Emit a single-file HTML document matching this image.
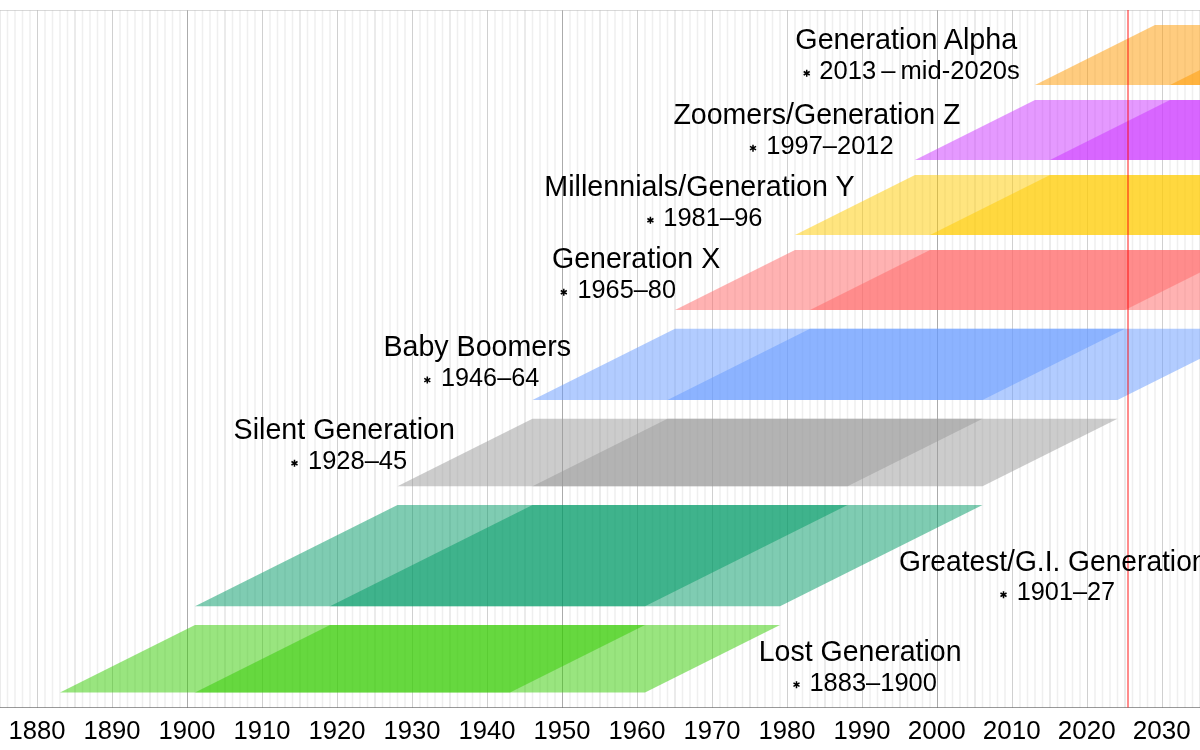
<!DOCTYPE html>
<html><head><meta charset="utf-8"><title>Generation timeline</title>
<style>html,body{margin:0;padding:0;background:#fff;}body{width:1200px;height:750px;overflow:hidden;}svg{display:block;will-change:transform;font-family:"Liberation Sans",sans-serif;}</style></head><body>
<svg width="1200" height="750" viewBox="0 0 1200 750">
<rect width="1200" height="750" fill="#fff"/>
<g fill="none" stroke="#000">
<path d="M7.5 10.5V707.5M15 10.5V707.5M22.5 10.5V707.5M30 10.5V707.5M45 10.5V707.5M52.5 10.5V707.5M60 10.5V707.5M67.5 10.5V707.5M82.5 10.5V707.5M90 10.5V707.5M97.5 10.5V707.5M105 10.5V707.5M120 10.5V707.5M127.5 10.5V707.5M135 10.5V707.5M142.5 10.5V707.5M157.5 10.5V707.5M165 10.5V707.5M172.5 10.5V707.5M180 10.5V707.5M195 10.5V707.5M202.5 10.5V707.5M210 10.5V707.5M217.5 10.5V707.5M232.5 10.5V707.5M240 10.5V707.5M247.5 10.5V707.5M255 10.5V707.5M270 10.5V707.5M277.5 10.5V707.5M285 10.5V707.5M292.5 10.5V707.5M307.5 10.5V707.5M315 10.5V707.5M322.5 10.5V707.5M330 10.5V707.5M345 10.5V707.5M352.5 10.5V707.5M360 10.5V707.5M367.5 10.5V707.5M382.5 10.5V707.5M390 10.5V707.5M397.5 10.5V707.5M405 10.5V707.5M420 10.5V707.5M427.5 10.5V707.5M435 10.5V707.5M442.5 10.5V707.5M457.5 10.5V707.5M465 10.5V707.5M472.5 10.5V707.5M480 10.5V707.5M495 10.5V707.5M502.5 10.5V707.5M510 10.5V707.5M517.5 10.5V707.5M532.5 10.5V707.5M540 10.5V707.5M547.5 10.5V707.5M555 10.5V707.5M570 10.5V707.5M577.5 10.5V707.5M585 10.5V707.5M592.5 10.5V707.5M607.5 10.5V707.5M615 10.5V707.5M622.5 10.5V707.5M630 10.5V707.5M645 10.5V707.5M652.5 10.5V707.5M660 10.5V707.5M667.5 10.5V707.5M682.5 10.5V707.5M690 10.5V707.5M697.5 10.5V707.5M705 10.5V707.5M720 10.5V707.5M727.5 10.5V707.5M735 10.5V707.5M742.5 10.5V707.5M757.5 10.5V707.5M765 10.5V707.5M772.5 10.5V707.5M780 10.5V707.5M795 10.5V707.5M802.5 10.5V707.5M810 10.5V707.5M817.5 10.5V707.5M832.5 10.5V707.5M840 10.5V707.5M847.5 10.5V707.5M855 10.5V707.5M870 10.5V707.5M877.5 10.5V707.5M885 10.5V707.5M892.5 10.5V707.5M907.5 10.5V707.5M915 10.5V707.5M922.5 10.5V707.5M930 10.5V707.5M945 10.5V707.5M952.5 10.5V707.5M960 10.5V707.5M967.5 10.5V707.5M982.5 10.5V707.5M990 10.5V707.5M997.5 10.5V707.5M1005 10.5V707.5M1020 10.5V707.5M1027.5 10.5V707.5M1035 10.5V707.5M1042.5 10.5V707.5M1057.5 10.5V707.5M1065 10.5V707.5M1072.5 10.5V707.5M1080 10.5V707.5M1095 10.5V707.5M1102.5 10.5V707.5M1110 10.5V707.5M1117.5 10.5V707.5M1132.5 10.5V707.5M1140 10.5V707.5M1147.5 10.5V707.5M1155 10.5V707.5M1170 10.5V707.5M1177.5 10.5V707.5M1185 10.5V707.5M1192.5 10.5V707.5" stroke-opacity="0.0625" stroke-width="1.5"/>
<path d="M0 10.5V707.5M75 10.5V707.5M150 10.5V707.5M225 10.5V707.5M300 10.5V707.5M375 10.5V707.5M450 10.5V707.5M525 10.5V707.5M600 10.5V707.5M675 10.5V707.5M750 10.5V707.5M825 10.5V707.5M900 10.5V707.5M975 10.5V707.5M1050 10.5V707.5M1125 10.5V707.5M1200 10.5V707.5" stroke-opacity="0.105" stroke-width="1.5"/>
<path d="M37.5 10.5V707.5M112.5 10.5V707.5M262.5 10.5V707.5M337.5 10.5V707.5M412.5 10.5V707.5M487.5 10.5V707.5M637.5 10.5V707.5M712.5 10.5V707.5M787.5 10.5V707.5M862.5 10.5V707.5M1012.5 10.5V707.5M1087.5 10.5V707.5M1162.5 10.5V707.5" stroke-opacity="0.185" stroke-width="1"/>
<path d="M187.5 10.5V707.5M562.5 10.5V707.5M937.5 10.5V707.5" stroke-opacity="0.33" stroke-width="1"/>
<path d="M0 10.5H1200" stroke-opacity="0.15" stroke-width="1"/>
<path d="M0 707.5H1200" stroke-opacity="0.4" stroke-width="1"/>
</g>
<g fill="#3c0" fill-opacity="0.5">
<path d="M60 692.5L195 625L780 625L645 692.5Z"/>
<path d="M195 692.5L330 625L645 625L510 692.5Z"/>
</g>
<g fill="#096" fill-opacity="0.5">
<path d="M195 606.25L397.5 505L982.5 505L780 606.25Z"/>
<path d="M330 606.25L532.5 505L847.5 505L645 606.25Z"/>
</g>
<g fill="#999" fill-opacity="0.5">
<path d="M397.5 486.25L532.5 418.75L1117.5 418.75L982.5 486.25Z"/>
<path d="M532.5 486.25L667.5 418.75L982.5 418.75L847.5 486.25Z"/>
</g>
<g fill="#69f" fill-opacity="0.5">
<path d="M532.5 400L675 328.75L1260 328.75L1117.5 400Z"/>
<path d="M667.5 400L810 328.75L1125 328.75L982.5 400Z"/>
</g>
<g fill="#f66" fill-opacity="0.5">
<path d="M675 310L795 250L1380 250L1260 310Z"/>
<path d="M810 310L930 250L1245 250L1125 310Z"/>
</g>
<g fill="#fc0" fill-opacity="0.5">
<path d="M795 235L915 175L1500 175L1380 235Z"/>
<path d="M930 235L1050 175L1365 175L1245 235Z"/>
</g>
<g fill="#c3f" fill-opacity="0.5">
<path d="M915 160L1035 100L1620 100L1500 160Z"/>
<path d="M1050 160L1170 100L1485 100L1365 160Z"/>
</g>
<g fill="#f90" fill-opacity="0.5">
<path d="M1035 85L1155 25L1740 25L1620 85Z"/>
<path d="M1170 85L1290 25L1605 25L1485 85Z"/>
</g>
<path d="M1128 10V707.5" stroke="#f00" stroke-opacity="0.45" stroke-width="2" fill="none"/>
<text x="8.49" y="739.20" font-size="26.4" textLength="56.94" lengthAdjust="spacingAndGlyphs">1880</text>
<text x="83.49" y="739.20" font-size="26.4" textLength="56.94" lengthAdjust="spacingAndGlyphs">1890</text>
<text x="158.49" y="739.20" font-size="26.4" textLength="56.94" lengthAdjust="spacingAndGlyphs">1900</text>
<text x="233.49" y="739.20" font-size="26.4" textLength="56.94" lengthAdjust="spacingAndGlyphs">1910</text>
<text x="308.49" y="739.20" font-size="26.4" textLength="56.94" lengthAdjust="spacingAndGlyphs">1920</text>
<text x="383.49" y="739.20" font-size="26.4" textLength="56.94" lengthAdjust="spacingAndGlyphs">1930</text>
<text x="458.49" y="739.20" font-size="26.4" textLength="56.94" lengthAdjust="spacingAndGlyphs">1940</text>
<text x="533.49" y="739.20" font-size="26.4" textLength="56.94" lengthAdjust="spacingAndGlyphs">1950</text>
<text x="608.49" y="739.20" font-size="26.4" textLength="56.94" lengthAdjust="spacingAndGlyphs">1960</text>
<text x="683.49" y="739.20" font-size="26.4" textLength="56.94" lengthAdjust="spacingAndGlyphs">1970</text>
<text x="758.49" y="739.20" font-size="26.4" textLength="56.94" lengthAdjust="spacingAndGlyphs">1980</text>
<text x="833.49" y="739.20" font-size="26.4" textLength="56.94" lengthAdjust="spacingAndGlyphs">1990</text>
<text x="907.85" y="739.20" font-size="26.4" textLength="57.84" lengthAdjust="spacingAndGlyphs">2000</text>
<text x="982.85" y="739.20" font-size="26.4" textLength="57.84" lengthAdjust="spacingAndGlyphs">2010</text>
<text x="1057.85" y="739.20" font-size="26.4" textLength="57.84" lengthAdjust="spacingAndGlyphs">2020</text>
<text x="1132.85" y="739.20" font-size="26.4" textLength="57.84" lengthAdjust="spacingAndGlyphs">2030</text>
<text x="758.78" y="660.50" font-size="29.5" textLength="202.80" lengthAdjust="spacingAndGlyphs">Lost Generation</text>
<text x="809.44" y="690.50" font-size="26.4" textLength="127.43" lengthAdjust="spacingAndGlyphs">1883–1900</text>
<path d="M796.50 681.15L796.50 688.15M793.47 682.90L799.53 686.40M799.53 682.90L793.47 686.40" stroke="#000" stroke-width="1.5" fill="none"/>
<text x="899.09" y="570.50" font-size="29.5" textLength="308.39" lengthAdjust="spacingAndGlyphs">Greatest/G.I. Generation</text>
<text x="1016.66" y="600.40" font-size="26.4" textLength="98.52" lengthAdjust="spacingAndGlyphs">1901–27</text>
<path d="M1003.50 591.25L1003.50 598.25M1000.47 593.00L1006.53 596.50M1006.53 593.00L1000.47 596.50" stroke="#000" stroke-width="1.5" fill="none"/>
<text x="233.57" y="439.00" font-size="29.5" textLength="221.34" lengthAdjust="spacingAndGlyphs">Silent Generation</text>
<text x="308.06" y="468.90" font-size="26.4" textLength="99.15" lengthAdjust="spacingAndGlyphs">1928–45</text>
<path d="M294.50 459.75L294.50 466.75M291.47 461.50L297.53 465.00M297.53 461.50L291.47 465.00" stroke="#000" stroke-width="1.5" fill="none"/>
<text x="383.38" y="356.00" font-size="29.5" textLength="187.71" lengthAdjust="spacingAndGlyphs">Baby Boomers</text>
<text x="441.06" y="385.80" font-size="26.4" textLength="98.15" lengthAdjust="spacingAndGlyphs">1946–64</text>
<path d="M427.30 376.55L427.30 383.55M424.27 378.30L430.33 381.80M430.33 378.30L424.27 381.80" stroke="#000" stroke-width="1.5" fill="none"/>
<text x="552.07" y="268.00" font-size="29.5" textLength="168.12" lengthAdjust="spacingAndGlyphs">Generation X</text>
<text x="577.47" y="298.00" font-size="26.4" textLength="98.49" lengthAdjust="spacingAndGlyphs">1965–80</text>
<path d="M563.80 288.75L563.80 295.75M560.77 290.50L566.83 294.00M566.83 290.50L560.77 294.00" stroke="#000" stroke-width="1.5" fill="none"/>
<text x="544.31" y="196.20" font-size="29.5" textLength="310.30" lengthAdjust="spacingAndGlyphs">Millennials/Generation Y</text>
<text x="663.26" y="226.20" font-size="26.4" textLength="99.28" lengthAdjust="spacingAndGlyphs">1981–96</text>
<path d="M650.40 216.75L650.40 223.75M647.37 218.50L653.43 222.00M653.43 218.50L647.37 222.00" stroke="#000" stroke-width="1.5" fill="none"/>
<text x="673.41" y="124.00" font-size="29.5" textLength="287.15" lengthAdjust="spacingAndGlyphs">Zoomers/Generation Z</text>
<text x="766.28" y="153.90" font-size="26.4" textLength="127.34" lengthAdjust="spacingAndGlyphs">1997–2012</text>
<path d="M753.00 144.65L753.00 151.65M749.97 146.40L756.03 149.90M756.03 146.40L749.97 149.90" stroke="#000" stroke-width="1.5" fill="none"/>
<text x="795.30" y="49.10" font-size="29.5" textLength="221.96" lengthAdjust="spacingAndGlyphs">Generation Alpha</text>
<text x="819.31" y="79.10" font-size="26.4" textLength="200.53" lengthAdjust="spacingAndGlyphs">2013 – mid-2020s</text>
<path d="M806.70 69.75L806.70 76.75M803.67 71.50L809.73 75.00M809.73 71.50L803.67 75.00" stroke="#000" stroke-width="1.5" fill="none"/>
</svg></body></html>
